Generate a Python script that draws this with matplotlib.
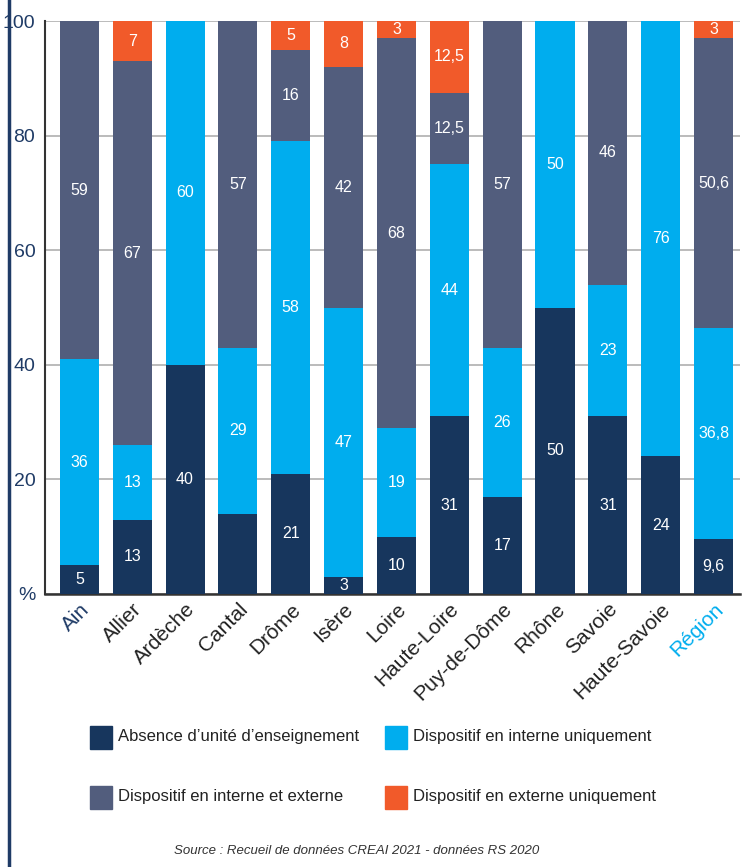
import numpy as np
import matplotlib
matplotlib.use("Agg")
import matplotlib.pyplot as plt
from matplotlib.lines import Line2D
from matplotlib.patches import Rectangle

plt.rcParams['font.family'] = ['Liberation Sans', 'DejaVu Sans']

departements = ["Ain", "Allier", "Ardèche", "Cantal", "Drôme", "Isère", "Loire",
                "Haute-Loire", "Puy-de-Dôme", "Rhône", "Savoie", "Haute-Savoie", "Région"]

absence = [5, 13, 40, 14, 21, 3, 10, 31, 17, 50, 31, 24, 9.6]
interne = [36, 13, 60, 29, 58, 47, 19, 44, 26, 50, 23, 76, 36.8]
interne_externe = [59, 67, 0, 57, 16, 42, 68, 12.5, 57, 0, 46, 0, 50.6]
externe = [0, 7, 0, 0, 5, 8, 3, 12.5, 0, 0, 0, 0, 3]

series_names = ["Absence d\u2019unité d\u2019enseignement", "Dispositif en interne uniquement",
                "Dispositif en interne et externe", "Dispositif en externe uniquement"]
colors = ["#17365d", "#00adee", "#525d7d", "#f15a2a"]

# Cantal's first segment has no printed value in the source
hidden = {(0, 3)}

fig = plt.figure(figsize=(7.48, 8.67), dpi=100)
ax = fig.add_axes([45 / 748, 1 - 594 / 867, (740 - 45) / 748, (594 - 21) / 867])

x = np.arange(len(departements))
bottom = np.zeros(len(departements))
for s, (vals, col) in enumerate(zip([absence, interne, interne_externe, externe], colors)):
    vals = np.array(vals, dtype=float)
    bars = ax.bar(x, vals, 0.74, bottom=bottom, color=col, zorder=3)
    labels = []
    for i, v in enumerate(vals):
        if v == 0 or (s, i) in hidden:
            labels.append("")
        else:
            labels.append(f"{v:g}".replace(".", ","))
    ax.bar_label(bars, labels=labels, label_type="center", color="white", fontsize=11.5)
    bottom += vals

ax.set_xlim(-0.65, 12.5)
ax.set_ylim(0, 100)
ax.set_yticks([0, 20, 40, 60, 80, 100])
ax.set_yticklabels(["%", "20", "40", "60", "80", "100"], fontsize=14, color="#1f3b66")
ax.tick_params(axis="y", length=0, pad=7)
ax.tick_params(axis="x", length=0, pad=4)
ax.set_xticks(x)
ax.set_xticklabels(departements, rotation=45, ha="right", rotation_mode="anchor",
                   fontsize=15, color="#222222")
ax.get_xticklabels()[0].set_color("#1f3b66")
ax.get_xticklabels()[-1].set_color("#00adee")

ax.yaxis.grid(True, color="#b5b5b5", linewidth=1.3, zorder=0)
ax.set_axisbelow(True)
for side in ["top", "right"]:
    ax.spines[side].set_visible(False)
ax.spines["left"].set_color("#333333")
ax.spines["bottom"].set_color("#333333")
ax.spines["left"].set_linewidth(1.5)
ax.spines["bottom"].set_linewidth(1.8)

# left border line
fig.add_artist(Line2D([9 / 748, 9 / 748], [0, 1], color="#1f3b66", linewidth=2.5))

# legend, drawn by hand in a 2x2 grid
col_x = [90, 385]
row_y = [737, 797]
for k, (name, col) in enumerate(zip(series_names, colors)):
    px = col_x[k % 2]
    py = row_y[k // 2]
    fig.add_artist(Rectangle((px / 748, 1 - (py + 11.5) / 867), 22 / 748, 23 / 867,
                             color=col, transform=fig.transFigure))
    fig.text((px + 28) / 748, 1 - py / 867, name, fontsize=12, color="#222222",
             ha="left", va="center")

fig.text(357 / 748, 1 - 851 / 867, "Source : Recueil de données CREAI 2021 - données RS 2020",
         fontsize=9.5, style="italic", color="#333333", ha="center", va="center")

fig.savefig("out.png", dpi=100)
